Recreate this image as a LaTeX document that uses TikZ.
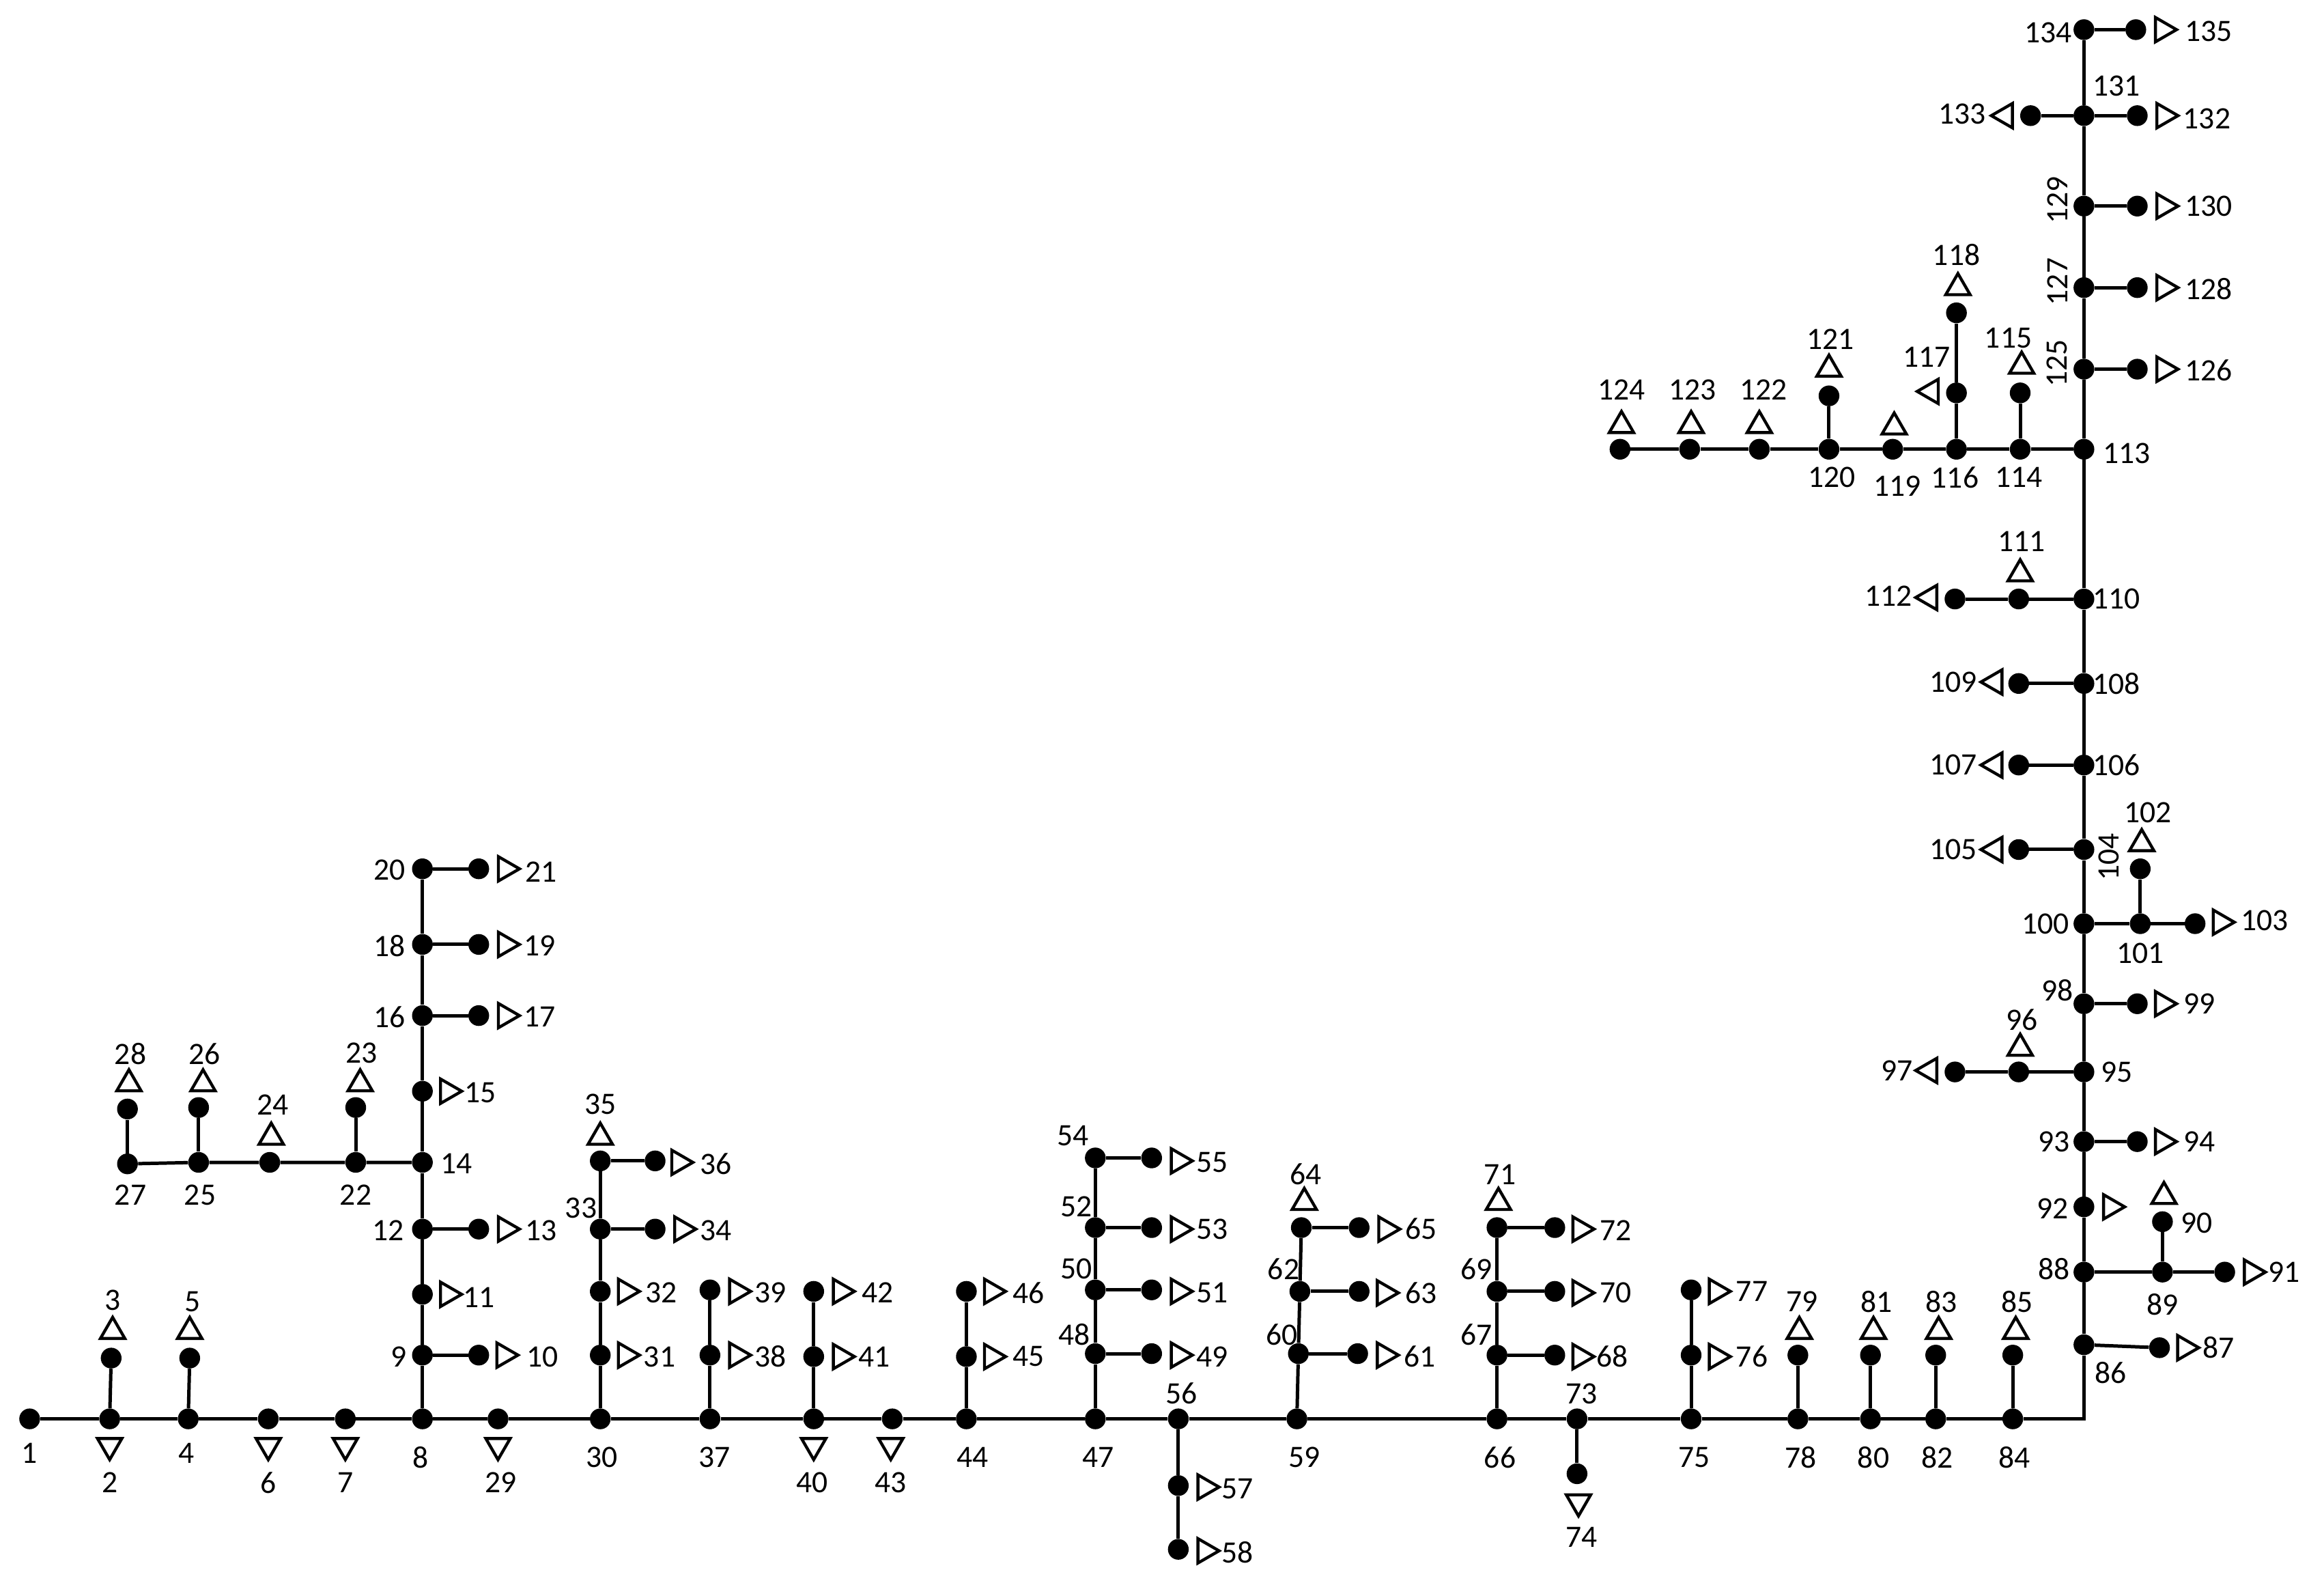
\documentclass[tikz,border=0pt]{standalone}
\usepackage{fontspec}
\setmainfont{Carlito}
\usetikzlibrary{shapes.geometric}
\newcommand\mkbus[3]{\node[bus] (n#1) at (#2,#3) {};}
\newcommand\mktri[4]{\node[load,rotate=#4] (t#1) at (#2,#3) {};}
\newcommand\mklab[3]{\node[lab] (l#1) at (#2,#3) {#1};}
\newcommand\mklabr[3]{\node[lab,rotate=90] (l#1) at (#2,#3) {#1};}
\tikzset{
  bus/.style={circle, fill=black, inner sep=0pt, minimum size=14pt},
  load/.style={regular polygon, regular polygon sides=3, draw=black, line width=2pt, fill=white, inner sep=0pt, minimum size=19pt},
  lab/.style={inner sep=0pt, font=\fontsize{21}{25}\selectfont},
  wire/.style={line width=2.3pt, line join=miter}
}
\begin{document}
\begin{tikzpicture}[x=1pt,y=-1pt]
\useasboundingbox[fill=white] (0,0) rectangle (1568,1066);
% ---------- buses ----------
\mkbus{1}{20}{957}\mkbus{2}{74}{957}\mkbus{3}{75}{916}\mkbus{4}{127}{957}\mkbus{5}{128}{916}
\mkbus{6}{181}{957}\mkbus{7}{233}{957}\mkbus{8}{285}{957}\mkbus{9}{285}{914}\mkbus{10}{323}{914}
\mkbus{11}{285}{873}\mkbus{12}{285}{829}\mkbus{13}{323}{829}\mkbus{14}{285}{784}\mkbus{15}{285}{736}
\mkbus{16}{285}{685}\mkbus{17}{323}{685}\mkbus{18}{285}{637}\mkbus{19}{323}{637}\mkbus{20}{285}{586}
\mkbus{21}{323}{586}\mkbus{22}{240}{784}\mkbus{23}{240}{747}\mkbus{24}{182}{784}\mkbus{25}{134}{784}
\mkbus{26}{134}{747}\mkbus{27}{86}{785}\mkbus{28}{86}{748}\mkbus{29}{336}{957}\mkbus{30}{405}{957}
\mkbus{31}{405}{914}\mkbus{32}{405}{871}\mkbus{33}{405}{829}\mkbus{34}{442}{829}\mkbus{35}{405}{783}
\mkbus{36}{442}{783}\mkbus{37}{479}{957}\mkbus{38}{479}{914}\mkbus{39}{479}{870}\mkbus{40}{549}{957}
\mkbus{41}{549}{915}\mkbus{42}{549}{871}\mkbus{43}{602}{957}\mkbus{44}{652}{957}\mkbus{45}{652}{915}
\mkbus{46}{652}{871}\mkbus{47}{739}{957}\mkbus{48}{739}{913}\mkbus{49}{777}{913}\mkbus{50}{739}{870}
\mkbus{51}{777}{870}\mkbus{52}{739}{828}\mkbus{53}{777}{828}\mkbus{54}{739}{781}\mkbus{55}{777}{781}
\mkbus{56}{795}{957}\mkbus{57}{795}{1002}\mkbus{58}{795}{1045}\mkbus{59}{875}{957}\mkbus{60}{876}{913}
\mkbus{61}{916}{913}\mkbus{62}{877}{871}\mkbus{63}{917}{871}\mkbus{64}{878}{828}\mkbus{65}{917}{828}
\mkbus{66}{1010}{957}\mkbus{67}{1010}{914}\mkbus{68}{1049}{914}\mkbus{69}{1010}{871}\mkbus{70}{1049}{871}
\mkbus{71}{1010}{828}\mkbus{72}{1049}{828}\mkbus{73}{1064}{957}\mkbus{74}{1064}{994}\mkbus{75}{1141}{957}
\mkbus{76}{1141}{914}\mkbus{77}{1141}{870}\mkbus{78}{1213}{957}\mkbus{79}{1213}{914}\mkbus{80}{1262}{957}
\mkbus{81}{1262}{914}\mkbus{82}{1306}{957}\mkbus{83}{1306}{914}\mkbus{84}{1358}{957}\mkbus{85}{1358}{914}
\coordinate (c84) at (1406,957);
\mkbus{86}{1406}{907}\mkbus{87}{1457}{909}\mkbus{88}{1406}{858}\mkbus{89}{1459}{858}\mkbus{90}{1459}{824}
\mkbus{91}{1501}{858}\mkbus{92}{1406}{814}\mkbus{93}{1406}{770}\mkbus{94}{1442}{770}\mkbus{95}{1406}{723}
\mkbus{96}{1362}{723}\mkbus{97}{1319}{723}\mkbus{98}{1406}{677}\mkbus{99}{1442}{677}\mkbus{100}{1406}{623}
\mkbus{101}{1444}{623}\mkbus{102}{1444}{586}\mkbus{103}{1481}{623}\mkbus{104}{1406}{573}\mkbus{105}{1362}{573}
\mkbus{106}{1406}{516}\mkbus{107}{1362}{516}\mkbus{108}{1406}{461}\mkbus{109}{1362}{461}\mkbus{110}{1406}{404}
\mkbus{111}{1362}{404}\mkbus{112}{1319}{404}\mkbus{113}{1406}{303}\mkbus{114}{1363}{303}\mkbus{115}{1363}{265}
\mkbus{116}{1320}{303}\mkbus{117}{1320}{265}\mkbus{118}{1320}{211}\mkbus{119}{1277}{303}\mkbus{120}{1234}{303}
\mkbus{121}{1234}{267}\mkbus{122}{1187}{303}\mkbus{123}{1140}{303}\mkbus{124}{1093}{303}\mkbus{125}{1406}{249}
\mkbus{126}{1442}{249}\mkbus{127}{1406}{194}\mkbus{128}{1442}{194}\mkbus{129}{1406}{139}\mkbus{130}{1442}{139}
\mkbus{131}{1406}{78}\mkbus{132}{1442}{78}\mkbus{133}{1370}{78}\mkbus{134}{1406}{20}\mkbus{135}{1441}{20}
% ---------- lines ----------
\draw[wire] (n1)--(n2)--(n4)--(n6)--(n7)--(n8)--(n29)--(n30)--(n37)--(n40)--(n43)--(n44)--(n47)--(n56)--(n59)--(n66)--(n73)--(n75)--(n78)--(n80)--(n82)--(n84);
\draw[wire] (n84)--(c84)--(n86);
\draw[wire] (n86)--(n88)--(n92)--(n93)--(n95)--(n98)--(n100)--(n104)--(n106)--(n108)--(n110)--(n113)--(n125)--(n127)--(n129)--(n131)--(n134);
\draw[wire] (n2)--(n3); \draw[wire] (n4)--(n5);
\draw[wire] (n8)--(n9)--(n11)--(n12)--(n14)--(n15)--(n16)--(n18)--(n20);
\draw[wire] (n9)--(n10); \draw[wire] (n12)--(n13); \draw[wire] (n16)--(n17); \draw[wire] (n18)--(n19); \draw[wire] (n20)--(n21);
\draw[wire] (n14)--(n22)--(n24)--(n25)--(n27);
\draw[wire] (n22)--(n23); \draw[wire] (n25)--(n26); \draw[wire] (n27)--(n28);
\draw[wire] (n30)--(n31)--(n32)--(n33)--(n35); \draw[wire] (n33)--(n34); \draw[wire] (n35)--(n36);
\draw[wire] (n37)--(n38)--(n39); \draw[wire] (n40)--(n41)--(n42); \draw[wire] (n44)--(n45)--(n46);
\draw[wire] (n47)--(n48)--(n50)--(n52)--(n54);
\draw[wire] (n48)--(n49); \draw[wire] (n50)--(n51); \draw[wire] (n52)--(n53); \draw[wire] (n54)--(n55);
\draw[wire] (n56)--(n57)--(n58);
\draw[wire] (n59)--(n60)--(n62)--(n64); \draw[wire] (n60)--(n61); \draw[wire] (n62)--(n63); \draw[wire] (n64)--(n65);
\draw[wire] (n66)--(n67)--(n69)--(n71); \draw[wire] (n67)--(n68); \draw[wire] (n69)--(n70); \draw[wire] (n71)--(n72);
\draw[wire] (n73)--(n74); \draw[wire] (n75)--(n76)--(n77);
\draw[wire] (n78)--(n79); \draw[wire] (n80)--(n81); \draw[wire] (n82)--(n83); \draw[wire] (n84)--(n85);
\draw[wire] (n86)--(n87); \draw[wire] (n88)--(n89)--(n91); \draw[wire] (n89)--(n90);
\draw[wire] (n93)--(n94); \draw[wire] (n95)--(n96)--(n97); \draw[wire] (n98)--(n99);
\draw[wire] (n100)--(n101)--(n103); \draw[wire] (n101)--(n102);
\draw[wire] (n104)--(n105); \draw[wire] (n106)--(n107); \draw[wire] (n108)--(n109);
\draw[wire] (n110)--(n111)--(n112);
\draw[wire] (n113)--(n114)--(n116)--(n119)--(n120)--(n122)--(n123)--(n124);
\draw[wire] (n114)--(n115); \draw[wire] (n116)--(n117)--(n118); \draw[wire] (n120)--(n121);
\draw[wire] (n125)--(n126); \draw[wire] (n127)--(n128); \draw[wire] (n129)--(n130);
\draw[wire] (n131)--(n132); \draw[wire] (n131)--(n133); \draw[wire] (n134)--(n135);
% ---------- loads (triangles) ----------
\mktri{2}{74}{975}{180}\mktri{3}{76}{898}{0}\mktri{5}{128}{898}{0}\mktri{6}{181}{975}{180}\mktri{7}{233}{975}{180}
\mktri{10}{340}{914}{-90}\mktri{11}{302}{873}{-90}\mktri{13}{341}{829}{-90}\mktri{15}{302}{736}{-90}
\mktri{17}{341}{685}{-90}\mktri{19}{341}{637}{-90}\mktri{21}{341}{586}{-90}
\mktri{23}{243}{731}{0}\mktri{24}{183}{767}{0}\mktri{26}{137}{731}{0}\mktri{28}{87}{731}{0}
\mktri{29}{336}{975}{180}\mktri{31}{422}{914}{-90}\mktri{32}{422}{871}{-90}\mktri{34}{460}{829}{-90}
\mktri{35}{405}{767}{0}\mktri{36}{458}{784}{-90}\mktri{38}{497}{914}{-90}\mktri{39}{497}{871}{-90}
\mktri{40}{549}{975}{180}\mktri{41}{567}{915}{-90}\mktri{42}{567}{871}{-90}\mktri{43}{601}{975}{180}
\mktri{45}{669}{915}{-90}\mktri{46}{669}{871}{-90}\mktri{49}{795}{914}{-90}\mktri{51}{795}{871}{-90}
\mktri{53}{795}{829}{-90}\mktri{55}{795}{783}{-90}\mktri{57}{813}{1003}{-90}\mktri{58}{813}{1046}{-90}
\mktri{61}{934}{914}{-90}\mktri{63}{934}{872}{-90}\mktri{64}{880}{811}{0}\mktri{65}{935}{829}{-90}
\mktri{68}{1066}{915}{-90}\mktri{70}{1066}{872}{-90}\mktri{71}{1011}{811}{0}\mktri{72}{1066}{829}{-90}
\mktri{74}{1065}{1013}{180}\mktri{76}{1158}{915}{-90}\mktri{77}{1158}{871}{-90}
\mktri{79}{1214}{898}{0}\mktri{81}{1264}{898}{0}\mktri{83}{1308}{898}{0}\mktri{85}{1360}{898}{0}
\mktri{87}{1474}{909}{-90}\mktri{90}{1460}{807}{0}\mktri{91}{1519}{858}{-90}\mktri{92}{1424}{814}{-90}
\mktri{94}{1459}{770}{-90}\mktri{96}{1363}{707}{0}\mktri{97}{1302}{722}{90}\mktri{99}{1459}{677}{-90}
\mktri{102}{1445}{569}{0}\mktri{103}{1498}{622}{-90}\mktri{105}{1346}{573}{90}\mktri{107}{1346}{516}{90}
\mktri{109}{1346}{460}{90}\mktri{111}{1363}{387}{0}\mktri{112}{1302}{403}{90}
\mktri{115}{1364}{247}{0}\mktri{117}{1303}{264}{90}\mktri{118}{1321}{194}{0}\mktri{119}{1278}{288}{0}
\mktri{121}{1234}{249}{0}\mktri{122}{1187}{287}{0}\mktri{123}{1141}{287}{0}\mktri{124}{1094}{287}{0}
\mktri{126}{1460}{249}{-90}\mktri{128}{1460}{194}{-90}\mktri{130}{1460}{139}{-90}\mktri{132}{1460}{78}{-90}
\mktri{133}{1353}{78}{90}\mktri{135}{1459}{20}{-90}
% ---------- labels ----------
\mklab{1}{20}{980}\mklab{2}{74}{1000}\mklab{3}{76}{877}\mklab{4}{126}{980}\mklab{5}{130}{878}
\mklab{6}{181}{1000}\mklab{7}{233}{1000}\mklab{8}{284}{983}\mklab{9}{269}{915}\mklab{10}{366}{915}
\mklab{11}{323}{875}\mklab{12}{262}{830}\mklab{13}{365}{830}\mklab{14}{308}{785}\mklab{15}{324}{737}
\mklab{16}{263}{686}\mklab{17}{364}{686}\mklab{18}{263}{638}\mklab{19}{364}{638}\mklab{20}{263}{587}
\mklab{21}{365}{588}\mklab{22}{240}{806}\mklab{23}{244}{710}\mklab{24}{184}{745}\mklab{25}{135}{806}
\mklab{26}{138}{711}\mklab{27}{88}{806}\mklab{28}{88}{711}\mklab{29}{338}{1000}\mklab{30}{406}{983}
\mklab{31}{445}{915}\mklab{32}{446}{872}\mklab{33}{392}{815}\mklab{34}{483}{830}\mklab{35}{405}{745}
\mklab{36}{483}{785}\mklab{37}{482}{983}\mklab{38}{520}{915}\mklab{39}{520}{872}\mklab{40}{548}{1000}
\mklab{41}{590}{915}\mklab{42}{592}{872}\mklab{43}{601}{1000}\mklab{44}{656}{983}\mklab{45}{694}{915}
\mklab{46}{694}{872}\mklab{47}{741}{983}\mklab{48}{725}{900}\mklab{49}{818}{915}\mklab{50}{726}{856}
\mklab{51}{818}{872}\mklab{52}{726}{814}\mklab{53}{818}{829}\mklab{54}{724}{766}\mklab{55}{818}{784}
\mklab{56}{797}{940}\mklab{57}{835}{1004}\mklab{58}{835}{1047}\mklab{59}{880}{983}\mklab{60}{865}{900}
\mklab{61}{958}{915}\mklab{62}{866}{856}\mklab{63}{959}{872}\mklab{64}{881}{792}\mklab{65}{959}{829}
\mklab{66}{1012}{983}\mklab{67}{996}{900}\mklab{68}{1088}{915}\mklab{69}{996}{856}\mklab{70}{1090}{872}
\mklab{71}{1012}{792}\mklab{72}{1090}{830}\mklab{73}{1067}{940}\mklab{74}{1067}{1037}\mklab{75}{1143}{983}
\mklab{76}{1182}{915}\mklab{77}{1182}{871}\mklab{78}{1215}{983}\mklab{79}{1216}{878}\mklab{80}{1264}{983}
\mklab{81}{1266}{878}\mklab{82}{1307}{983}\mklab{83}{1310}{878}\mklab{84}{1359}{983}\mklab{85}{1361}{878}
\mklab{86}{1424}{926}\mklab{87}{1497}{909}\mklab{88}{1386}{856}\mklab{89}{1459}{880}\mklab{90}{1482}{825}
\mklab{91}{1541}{858}\mklab{92}{1385}{815}\mklab{93}{1386}{770}\mklab{94}{1484}{770}\mklab{95}{1428}{723}
\mklab{96}{1364}{688}\mklab{97}{1280}{722}\mklab{98}{1388}{668}\mklab{99}{1484}{677}\mklab{100}{1380}{623}
\mklab{101}{1444}{643}\mklab{102}{1449}{548}\mklab{103}{1528}{621}\mklabr{104}{1423}{578}\mklab{105}{1318}{573}
\mklab{106}{1428}{516}\mklab{107}{1318}{516}\mklab{108}{1428}{461}\mklab{109}{1318}{460}\mklab{110}{1428}{404}
\mklab{111}{1364}{365}\mklab{112}{1274}{402}\mklab{113}{1435}{306}\mklab{114}{1362}{322}\mklab{115}{1355}{228}
\mklab{116}{1319}{322}\mklab{117}{1300}{241}\mklab{118}{1320}{172}\mklab{119}{1280}{328}\mklab{120}{1236}{322}
\mklab{121}{1235}{229}\mklab{122}{1190}{263}\mklab{123}{1142}{263}\mklab{124}{1094}{263}\mklabr{125}{1388}{245}
\mklab{126}{1490}{250}\mklabr{127}{1388}{190}\mklab{128}{1490}{195}\mklabr{129}{1388}{135}\mklab{130}{1490}{139}
\mklab{131}{1428}{58}\mklab{132}{1489}{80}\mklab{133}{1324}{77}\mklab{134}{1382}{22}\mklab{135}{1490}{21}
\end{tikzpicture}
\end{document}
